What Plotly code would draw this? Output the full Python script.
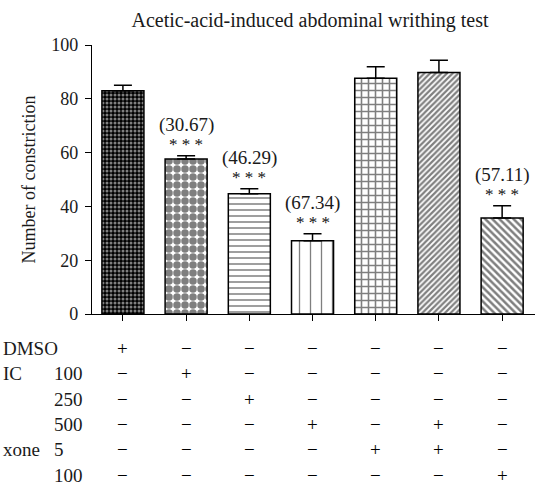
import plotly.graph_objects as go

# ---- data ----
groups = ["G1", "G2", "G3", "G4", "G5", "G6", "G7"]
means = [83.0, 57.6, 44.7, 27.2, 87.6, 89.8, 35.7]
errors = [2.0, 1.2, 1.9, 2.6, 4.3, 4.5, 4.5]
inhibition = ["", "(30.67)", "(46.29)", "(67.34)", "", "", "(57.11)"]
signif = ["", "* * *", "* * *", "* * *", "", "", "* * *"]

row_names = ["DMSO", "IC", "", "", "xone", ""]
row_doses = ["", "100", "250", "500", "5", "100"]
treatment = [
    [1, 0, 0, 0, 0, 0, 0],
    [0, 1, 0, 0, 0, 0, 0],
    [0, 0, 1, 0, 0, 0, 0],
    [0, 0, 0, 1, 0, 1, 0],
    [0, 0, 0, 0, 1, 1, 0],
    [0, 0, 0, 0, 0, 0, 1],
]
y_ticks = [0, 20, 40, 60, 80, 100]

patterns = [
    dict(shape=".", fgcolor="white", bgcolor="black", size=4, solidity=0.45),
    dict(shape=".", fgcolor="black", bgcolor="white", size=8, solidity=0.7),
    dict(shape="-", fgcolor="black", bgcolor="white", size=6, solidity=0.25),
    dict(shape="|", fgcolor="black", bgcolor="white", size=11, solidity=0.12),
    dict(shape="+", fgcolor="black", bgcolor="white", size=7, solidity=0.4),
    dict(shape="/", fgcolor="black", bgcolor="white", size=4, solidity=0.55),
    dict(shape="\\", fgcolor="black", bgcolor="white", size=5, solidity=0.5),
]

FONT = "Liberation Serif"
TXT = "#1a1a1a"
W, H = 541, 488
ML, MR, MT, MB = 85, 6, 45, 174
PW = W - ML - MR
PH = H - MT - MB

fig = go.Figure()
for i, g in enumerate(groups):
    fig.add_trace(go.Bar(
        x=[i], y=[means[i]], width=0.665,
        marker=dict(color="white", line=dict(color="black", width=1.5),
                    pattern=patterns[i]),
        error_y=dict(type="data", symmetric=False, array=[errors[i]],
                     arrayminus=[0], color="black", thickness=1.5, width=9),
        showlegend=False,
    ))

annotations = []
for i in range(len(groups)):
    top = means[i] + errors[i]
    if signif[i]:
        annotations.append(dict(x=i, y=top, xref="x", yref="y", text=signif[i],
                                showarrow=False, yanchor="middle", yshift=11,
                                font=dict(family=FONT, size=17, color="#111")))
    if inhibition[i]:
        annotations.append(dict(x=i, y=top, xref="x", yref="y", text=inhibition[i],
                                showarrow=False, yanchor="middle", yshift=31,
                                font=dict(family=FONT, size=19, color=TXT)))

row_y_px = [348, 373.5, 399, 424.5, 450, 475]
name_left_px = [1, 1, 0, 0, 1, 0]
for r in range(len(row_doses)):
    ypaper = (H - MB - row_y_px[r]) / PH
    if row_names[r]:
        annotations.append(dict(x=(name_left_px[r] - ML) / PW, y=ypaper,
                                xref="paper", yref="paper", text=row_names[r],
                                showarrow=False, xanchor="left", yanchor="middle",
                                font=dict(family=FONT, size=19, color=TXT)))
    if row_doses[r]:
        annotations.append(dict(x=(52 - ML) / PW, y=ypaper, xref="paper", yref="paper",
                                text=row_doses[r], showarrow=False, xanchor="left",
                                yanchor="middle",
                                font=dict(family=FONT, size=19, color=TXT)))
    for c in range(len(groups)):
        annotations.append(dict(x=c, y=ypaper, xref="x", yref="paper",
                                text="+" if treatment[r][c] else "−",
                                showarrow=False, xanchor="center", yanchor="middle",
                                font=dict(family=FONT, size=19, color="black")))

fig.update_layout(
    width=W, height=H,
    margin=dict(l=ML, r=MR, t=MT, b=MB, autoexpand=False),
    plot_bgcolor="white", paper_bgcolor="white",
    title=dict(text="Acetic-acid-induced abdominal writhing test", x=0.5, xref="paper",
               xanchor="center", y=1 - 20 / H, yanchor="middle",
               font=dict(family=FONT, size=20, color=TXT)),
    annotations=annotations,
    xaxis=dict(range=[-0.60, 6.52], showline=True, linecolor="black", linewidth=1.3,
               tickmode="array", tickvals=list(range(len(groups))), ticktext=[""] * len(groups),
               ticks="outside", ticklen=6, tickcolor="black", tickwidth=1.3,
               showgrid=False, zeroline=False, fixedrange=True),
    yaxis=dict(range=[0, 100], anchor="free", position=(91 - ML) / PW,
               showline=True, linecolor="black", linewidth=1.3,
               tickmode="array", tickvals=y_ticks, ticks="outside", ticklen=6,
               tickcolor="black", tickwidth=1.3, showgrid=False, zeroline=False,
               ticklabelstandoff=3,
               tickfont=dict(family=FONT, size=18, color=TXT),
               title=dict(text="Number of constriction", standoff=9,
                          font=dict(family=FONT, size=18, color=TXT))),
)

fig.write_html("out.html", config={"displayModeBar": False},
               post_script="document.body.style.margin='0px';")
